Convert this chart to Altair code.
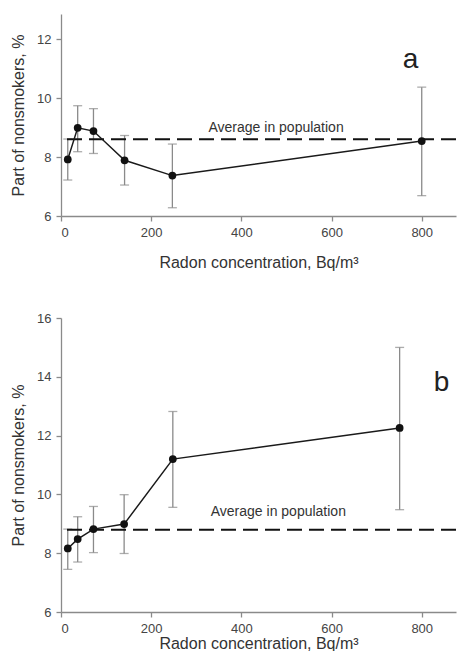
import altair as alt
import pandas as pd

# Panel a
a_x = [15, 37, 72, 141, 247, 800]
a_y = [7.92, 8.99, 8.88, 7.89, 7.37, 8.54]
a_lo = [7.22, 8.18, 8.12, 7.05, 6.28, 6.69]
a_hi = [8.61, 9.74, 9.64, 8.73, 8.44, 10.37]
a_avg = 8.6

# Panel b
b_x = [15, 37, 72, 140, 248, 751]
b_y = [8.16, 8.48, 8.82, 8.99, 11.2, 12.26]
b_lo = [7.45, 7.70, 8.02, 7.99, 9.56, 9.48]
b_hi = [8.82, 9.24, 9.59, 9.99, 12.82, 15.0]
b_avg = 8.8

x_ticks = [0, 200, 400, 600, 800]
a_yticks = [6, 8, 10, 12]
b_yticks = [6, 8, 10, 12, 14, 16]

FONT = "Liberation Sans"
XTITLE = "Radon concentration, Bq/m³"
YTITLE = "Part of nonsmokers, %"
XMAX = 876


def panel(xs, ys, lo, hi, avg, ydom, yticks, letter, letter_pos, avg_pos, w, h, xtp):
    df = pd.DataFrame({"x": xs, "y": ys, "lo": lo, "hi": hi})
    xsc = alt.Scale(domain=[0, XMAX], nice=False)
    ysc = alt.Scale(domain=ydom, nice=False, zero=False)
    xenc = alt.X("x:Q", scale=xsc, axis=alt.Axis(values=x_ticks, title=XTITLE, titlePadding=xtp))
    yaxis = alt.Axis(values=yticks, title=YTITLE)
    base = alt.Chart(df)
    rules = base.mark_rule(color="#8a8a8a", strokeWidth=1.3).encode(
        x=xenc, y=alt.Y("lo:Q", scale=ysc, axis=yaxis), y2="hi:Q"
    )
    cap_lo = base.mark_tick(orient="horizontal", size=9, thickness=1.3, color="#8a8a8a").encode(
        x="x:Q", y="lo:Q"
    )
    cap_hi = base.mark_tick(orient="horizontal", size=9, thickness=1.3, color="#8a8a8a").encode(
        x="x:Q", y="hi:Q"
    )
    avg_line = alt.Chart(pd.DataFrame({"v": [avg]})).mark_rule(
        color="#111111", strokeWidth=2, strokeDash=[15, 7]
    ).encode(y="v:Q")
    line = base.mark_line(color="#1a1a1a", strokeWidth=1.5).encode(x="x:Q", y="y:Q")
    pts = base.mark_point(filled=True, color="#111111", size=60, opacity=1).encode(
        x="x:Q", y="y:Q"
    )
    avg_txt = alt.Chart(pd.DataFrame({"x": [avg_pos[0]], "y": [avg_pos[1]], "t": ["Average in population"]})).mark_text(
        font=FONT, fontSize=14, color="#333333"
    ).encode(x="x:Q", y="y:Q", text="t:N")
    let_txt = alt.Chart(pd.DataFrame({"x": [letter_pos[0]], "y": [letter_pos[1]], "t": [letter]})).mark_text(
        font=FONT, fontSize=28, color="#222222", baseline="alphabetic"
    ).encode(x="x:Q", y="y:Q", text="t:N")
    return alt.layer(rules, cap_lo, cap_hi, avg_line, line, pts, avg_txt, let_txt).properties(
        width=w, height=h
    )


top = panel(a_x, a_y, a_lo, a_hi, a_avg, [6, 12.85], a_yticks, "a", (775, 11.03), (477, 9.0), 395, 202, 15)
bot = panel(b_x, b_y, b_lo, b_hi, b_avg, [6, 16], b_yticks, "b", (844, 13.53), (482, 9.4), 395, 294, 0)

chart = alt.vconcat(top, bot, spacing=42).properties(
    padding={"left": 2, "top": 6, "right": 0, "bottom": 0}
).configure_view(stroke=None).configure_axis(
    grid=False,
    domainColor="#8a8a8a",
    domainWidth=1.3,
    tickColor="#8a8a8a",
    tickWidth=1.3,
    tickSize=5,
    labelFont=FONT,
    labelFontSize=13,
    labelColor="#444444",
    titleFont=FONT,
    titleFontSize=16,
    titleFontWeight="normal",
    titleColor="#333333",
    labelPadding=5,
).configure_axisY(titlePadding=10)

chart.save("out.html", embed_options={"renderer": "svg", "actions": False})
